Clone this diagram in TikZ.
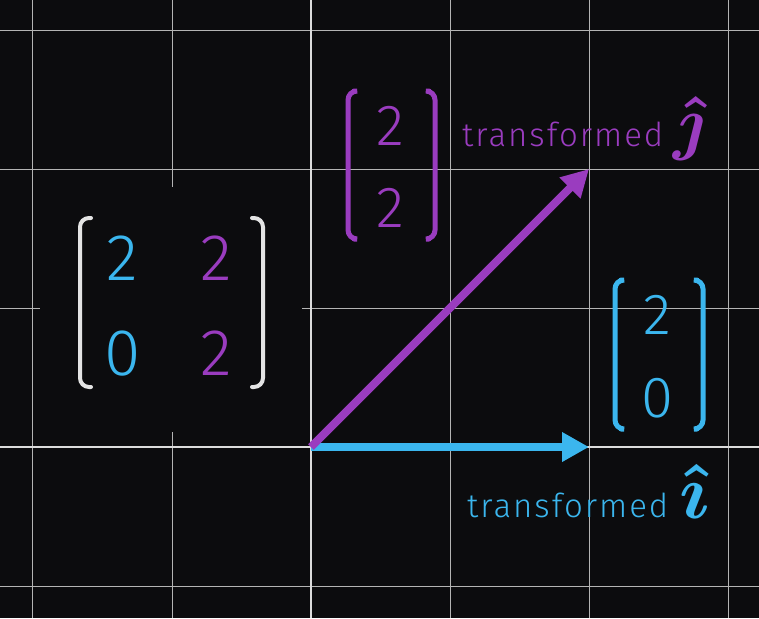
\documentclass[tikz,border=0pt]{standalone}
\usepackage{amsmath,amssymb}
\usepackage{fontspec}
\setmainfont{Fira Sans Light}
\usetikzlibrary{arrows.meta}
\definecolor{bg}{HTML}{0C0C0E}
\definecolor{gridc}{HTML}{B4B4B4}
\definecolor{axisc}{HTML}{DCDCDC}
\definecolor{iblue}{HTML}{3BB6EE}
\definecolor{jpurple}{HTML}{9A3CBF}
\definecolor{brc}{HTML}{E4E4E4}
\tikzset{
  gridline/.style={draw=gridc, line width=0.9pt},
  axisline/.style={draw=axisc, line width=2.6pt},
  vec/.style={line width=8pt, -{Triangle[length=27pt,width=28pt]}},
  bracket/.style={line width=4pt, line cap=round, rounded corners=9pt},
  label/.style={anchor=base west, inner sep=0pt, font=\fontsize{33}{38}\selectfont\addfontfeatures{LetterSpace=6}},
  bigdigit/.style={anchor=base, inner sep=0pt, font=\fontsize{66}{70}\selectfont},
  coldigit/.style={anchor=base, inner sep=0pt, font=\fontsize{58}{64}\selectfont},
  hatsym/.style={anchor=base west, inner sep=0pt},
}
\begin{document}
\begin{tikzpicture}[x=1pt,y=-1pt]
\useasboundingbox (0,0) rectangle (759,618);
\fill[bg] (0,0) rectangle (759,618);
% grid
\foreach \gx in {32.5,172,450,589,728} {\draw[gridline] (\gx,0) -- (\gx,618);}
\foreach \gy in {30,169,308,586} {\draw[gridline] (0,\gy) -- (759,\gy);}
\draw[axisline] (311,0) -- (311,618);
\draw[axisline] (0,447) -- (759,447);
% matrix backdrop
\fill[bg] (40,187) rectangle (302,432);
% matrix
\draw[bracket, brc] (91,218) -- (80,218) -- (80,387) -- (91,387);
\draw[bracket, brc] (252,218) -- (263,218) -- (263,387) -- (252,387);
\node[bigdigit, text=iblue] (m11) at (122,280) {2};
\node[bigdigit, text=iblue] (m21) at (123,375) {0};
\node[bigdigit, text=jpurple] (m12) at (216,280) {2};
\node[bigdigit, text=jpurple] (m22) at (216,375) {2};
% vectors
\coordinate (O) at (311,447);
\coordinate (I) at (589,447);
\coordinate (J) at (589,169);
\draw[vec, iblue] (O) -- (I);
\draw[vec, jpurple] (O) -- (J);
% column vector j
\draw[bracket, jpurple, line width=5pt] (354,91) -- (348,91) -- (348,239) -- (354,239);
\draw[bracket, jpurple, line width=5pt] (429,91) -- (435,91) -- (435,239) -- (429,239);
\node[coldigit, text=jpurple] (j1) at (390,145) {2};
\node[coldigit, text=jpurple] (j2) at (390,227) {2};
\node[label, text=jpurple] (jt) at (462,146) {transformed};
\node[hatsym, text=jpurple] (jh) at (673,146) {\scalebox{7.2}{$\boldsymbol{\hat{\jmath}}$}};
% column vector i
\draw[bracket, iblue, line width=5pt] (621,280) -- (615,280) -- (615,429) -- (621,429);
\draw[bracket, iblue, line width=5pt] (697,280) -- (703,280) -- (703,429) -- (697,429);
\node[coldigit, text=iblue] (i1) at (657,334) {2};
\node[coldigit, text=iblue] (i2) at (657,417) {0};
\node[label, text=iblue] (it) at (467,517) {transformed};
\node[hatsym, text=iblue] (ih) at (679,518) {\scalebox{7.8}{$\boldsymbol{\hat{\imath}}$}};
\end{tikzpicture}
\end{document}
